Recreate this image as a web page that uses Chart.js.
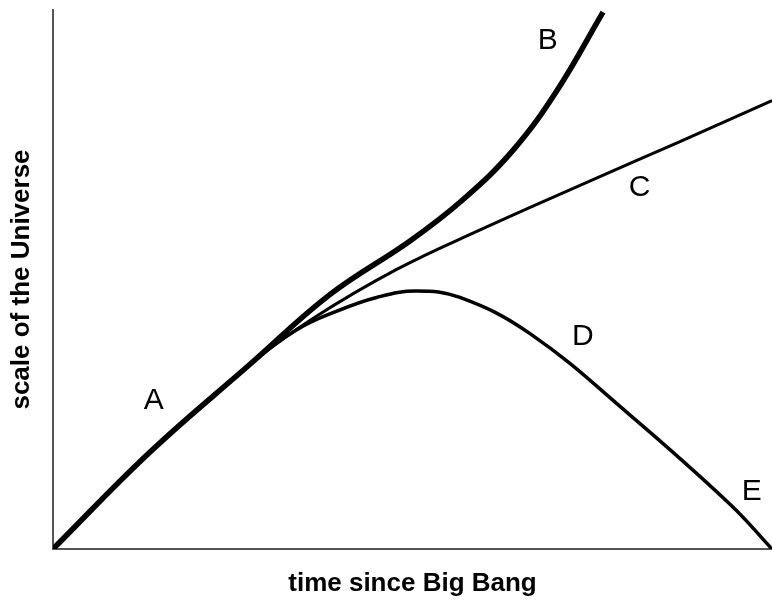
<!DOCTYPE html>
<html>
<head>
<meta charset="utf-8">
<script src="https://cdn.jsdelivr.net/npm/chart.js@4.4.1/dist/chart.umd.min.js"></script>
<style>
  html, body { margin: 0; padding: 0; background: #fff; }
  #chart { display: block; }
</style>
</head>
<body>
<canvas id="chart" width="772" height="601"></canvas>
<script>
// Tiempo y escala (unidades arbitrarias)
const commonTime = [0, 13.5, 27.4];
const commonScale = [0, 13.5, 25.7];

const bTime = [38.5, 49.7, 57.0, 64.0, 70.1, 76.5];
const bScale = [35.4, 42.9, 48.6, 55.5, 63.8, 74.7];

const cTime = [36.2, 47.8, 59.4, 73.3, 87.2, 100];
const cScale = [32.1, 38.9, 44.4, 50.6, 56.7, 62.4];

const dTime = [33.9, 39.5, 45.0, 50.5, 56.6, 66.3, 80.3, 94.2, 100];
const dScale = [30.5, 33.1, 35.0, 35.9, 35.0, 30.0, 18.6, 6.2, 0];

// Letras de las curvas
const labelNames = ["A", "B", "C", "D", "E"];
const labelTime = [14.0, 68.8, 81.6, 73.7, 97.2];
const labelScale = [20.6, 70.7, 50.2, 29.6, 7.9];

const FONT = '"Liberation Sans", Arial, sans-serif';

// Une el tramo común con cada curva
function buildPoints(times, scales) {
  const xs = commonTime.concat(times);
  const ys = commonScale.concat(scales);
  return xs.map((x, i) => ({ x: x, y: ys[i] }));
}

// Dibuja las letras en coordenadas de datos
const curveLabels = {
  id: "curveLabels",
  afterDatasetsDraw(chart) {
    const { ctx, scales } = chart;
    ctx.save();
    ctx.fillStyle = "#000";
    ctx.font = "30px " + FONT;
    ctx.textAlign = "center";
    ctx.textBaseline = "middle";
    labelNames.forEach((name, i) => {
      ctx.fillText(name, scales.x.getPixelForValue(labelTime[i]), scales.y.getPixelForValue(labelScale[i]));
    });
    ctx.restore();
  },
};

new Chart(document.getElementById("chart"), {
  type: "line",
  data: {
    datasets: [
      { label: "D", data: buildPoints(dTime, dScale), borderWidth: 3.5 },
      { label: "C", data: buildPoints(cTime, cScale), borderWidth: 3 },
      { label: "B", data: buildPoints(bTime, bScale), borderWidth: 5.5 },
    ],
  },
  options: {
    responsive: false,
    animation: false,
    devicePixelRatio: 1,
    layout: { padding: { top: 10, right: 0, bottom: 0, left: 0 } },
    elements: {
      line: { borderColor: "#000", tension: 0.4, fill: false },
      point: { radius: 0 },
    },
    plugins: {
      legend: { display: false },
      tooltip: { enabled: false },
    },
    scales: {
      x: {
        type: "linear",
        min: 0,
        max: 100,
        ticks: { display: false },
        grid: { display: false, drawTicks: false },
        border: { display: true, color: "#555", width: 2 },
        title: {
          display: true,
          text: "time since Big Bang",
          color: "#000",
          font: { family: FONT, size: 26, weight: "bold", lineHeight: 1.2 },
          padding: { top: 19.4, bottom: 1.4 },
        },
      },
      y: {
        type: "linear",
        min: 0,
        max: 75,
        ticks: { display: false },
        grid: { display: false, drawTicks: false },
        border: { display: true, color: "#555", width: 2 },
        title: {
          display: true,
          text: "scale of the Universe",
          color: "#000",
          font: { family: FONT, size: 26, weight: "bold", lineHeight: 1.2 },
          padding: { top: 6.4, bottom: 15.4 },
        },
      },
    },
  },
  plugins: [curveLabels],
});
</script>
</body>
</html>
